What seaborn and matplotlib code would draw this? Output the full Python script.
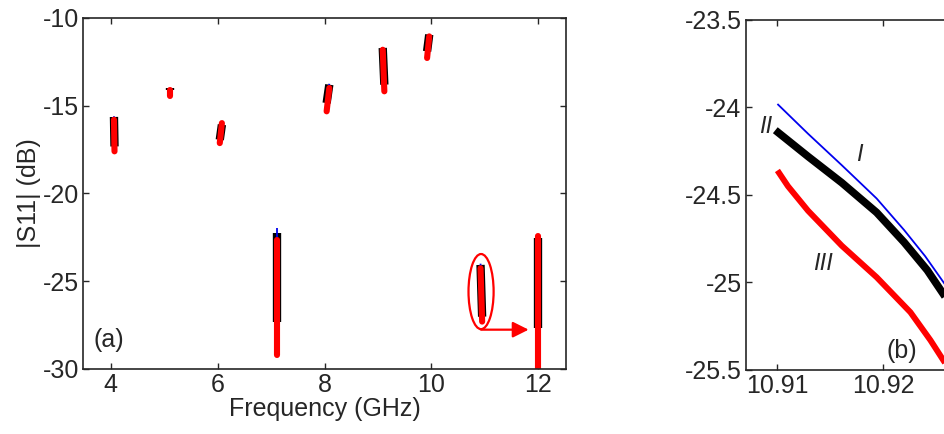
import numpy as np
import pandas as pd
import matplotlib
matplotlib.use("Agg")
import matplotlib.pyplot as plt
import seaborn as sns
from matplotlib.patches import Ellipse
from matplotlib.ticker import FuncFormatter

# panel (a): each resonance is a short near-vertical sweep, top -> bottom
seg_f_top = [4.06, 5.11, 6.08, 7.11, 8.09, 9.09, 9.96, 10.92, 12.0]
seg_f_bot = [4.07, 5.11, 6.04, 7.11, 8.04, 9.12, 9.92, 10.95, 12.0]
blue_top = [-15.6, -13.98, -16.06, -21.98, -13.75, -11.69, -10.93, -24.0, -22.5]
blue_bot = [-17.3, -14.1, -16.9, -27.2, -14.8, -13.8, -11.9, -27.0, -27.6]
black_top = [-15.64, -13.99, -16.08, -22.26, -13.8, -11.71, -10.95, -24.07, -22.55]
black_bot = [-17.32, -14.13, -16.94, -27.3, -14.85, -13.8, -11.9, -27.02, -27.68]
red_top = [-15.8, -14.09, -15.99, -22.64, -13.99, -11.81, -11.05, -24.26, -22.45]
red_bot = [-17.6, -14.47, -17.13, -29.2, -15.32, -14.18, -12.28, -27.3, -30.06]

# panel (b): zoom around 10.91 GHz
f_I = [10.9100, 10.9129, 10.9161, 10.9194, 10.9220, 10.9240, 10.9261, 10.9272]
curve_I = [-23.98, -24.15, -24.33, -24.52, -24.70, -24.85, -25.03, -25.13]
f_II = [10.9098, 10.9129, 10.9161, 10.9194, 10.9220, 10.9242, 10.9261, 10.9272]
curve_II = [-24.13, -24.28, -24.43, -24.60, -24.77, -24.93, -25.10, -25.21]
f_III = [10.9100, 10.9110, 10.9129, 10.9161, 10.9194, 10.9226, 10.9245, 10.9261, 10.9270]
curve_III = [-24.36, -24.45, -24.59, -24.79, -24.97, -25.17, -25.33, -25.48, -25.57]

rows = []
for i in range(len(seg_f_top)):
    for name, top, bot in [("I", blue_top, blue_bot), ("II", black_top, black_bot),
                           ("III", red_top, red_bot)]:
        rows.append((i, name, seg_f_top[i], top[i]))
        rows.append((i, name, seg_f_bot[i], bot[i]))
df_a = pd.DataFrame(rows, columns=["seg", "curve", "freq", "s11"])

df_b = pd.concat([
    pd.DataFrame({"freq": f_I, "s11": curve_I, "curve": "I"}),
    pd.DataFrame({"freq": f_II, "s11": curve_II, "curve": "II"}),
    pd.DataFrame({"freq": f_III, "s11": curve_III, "curve": "III"}),
])

sns.set_theme(style="ticks")
plt.rcParams["font.family"] = ["Liberation Sans", "DejaVu Sans"]
plt.rcParams["axes.unicode_minus"] = False
fs = 18

fig = plt.figure(figsize=(9.44, 4.34), dpi=100)
ax1 = fig.add_axes([0.0879, 0.1498, 0.5117, 0.8088])
ax2 = fig.add_axes([0.790, 0.1475, 0.2426, 0.8065])

styles = {"II": dict(color="black", lw=6.0, solid_capstyle="butt"),
          "I": dict(color="#0000ee", lw=1.3, solid_capstyle="butt"),
          "III": dict(color="#ff0000", lw=4.4, solid_capstyle="round")}

for name in ["II", "I", "III"]:
    sns.lineplot(data=df_a[df_a.curve == name], x="freq", y="s11", units="seg",
                 estimator=None, sort=False, ax=ax1, legend=False, **styles[name])

ax1.add_patch(Ellipse((10.93, -25.59), 0.47, 4.28, fill=False, ec="#ff0000", lw=1.6))
ax1.annotate("", xy=(11.82, -27.76), xytext=(10.93, -27.76),
             arrowprops=dict(arrowstyle="-|>", color="#ff0000", lw=1.6,
                             mutation_scale=24, shrinkA=0, shrinkB=0))
ax1.text(3.67, -28.35, "(a)", fontsize=fs, va="center")

ax1.set_xlim(3.48, 12.52)
ax1.set_ylim(-30, -10)
ax1.set_xticks([4, 6, 8, 10, 12])
ax1.set_yticks([-30, -25, -20, -15, -10])
ax1.set_xlabel("Frequency (GHz)", fontsize=fs, labelpad=0)
ax1.set_ylabel("|S11| (dB)", fontsize=fs, labelpad=1)

b_styles = {"I": dict(color="#0000ee", lw=1.3),
            "II": dict(color="black", lw=5.5),
            "III": dict(color="#ff0000", lw=4.3)}
for name in ["I", "II", "III"]:
    sns.lineplot(data=df_b[df_b.curve == name], x="freq", y="s11", estimator=None,
                 sort=False, ax=ax2, legend=False, solid_capstyle="butt", **b_styles[name])

ax2.text(10.9095, -24.11, "II", fontsize=17, style="italic", ha="right", va="center")
ax2.text(10.9178, -24.27, "I", fontsize=17, style="italic", ha="center", va="center")
ax2.text(10.9143, -24.89, "III", fontsize=17, style="italic", ha="center", va="center")
ax2.text(10.9203, -25.39, "(b)", fontsize=fs, va="center")

ax2.set_xlim(10.907, 10.9287)
ax2.set_ylim(-25.5, -23.5)
ax2.set_xticks([10.91, 10.92])
ax2.set_yticks([-25.5, -25, -24.5, -24, -23.5])
ax2.yaxis.set_major_formatter(FuncFormatter(lambda v, p: f"{v:g}"))
ax2.set_xlabel("")
ax2.set_ylabel("")

for ax in (ax1, ax2):
    ax.tick_params(direction="in", top=True, right=True, labelsize=fs,
                   length=4, width=1, pad=3)
    for sp in ax.spines.values():
        sp.set_linewidth(1.2)
        sp.set_visible(True)

fig.savefig("out.png", dpi=100)
